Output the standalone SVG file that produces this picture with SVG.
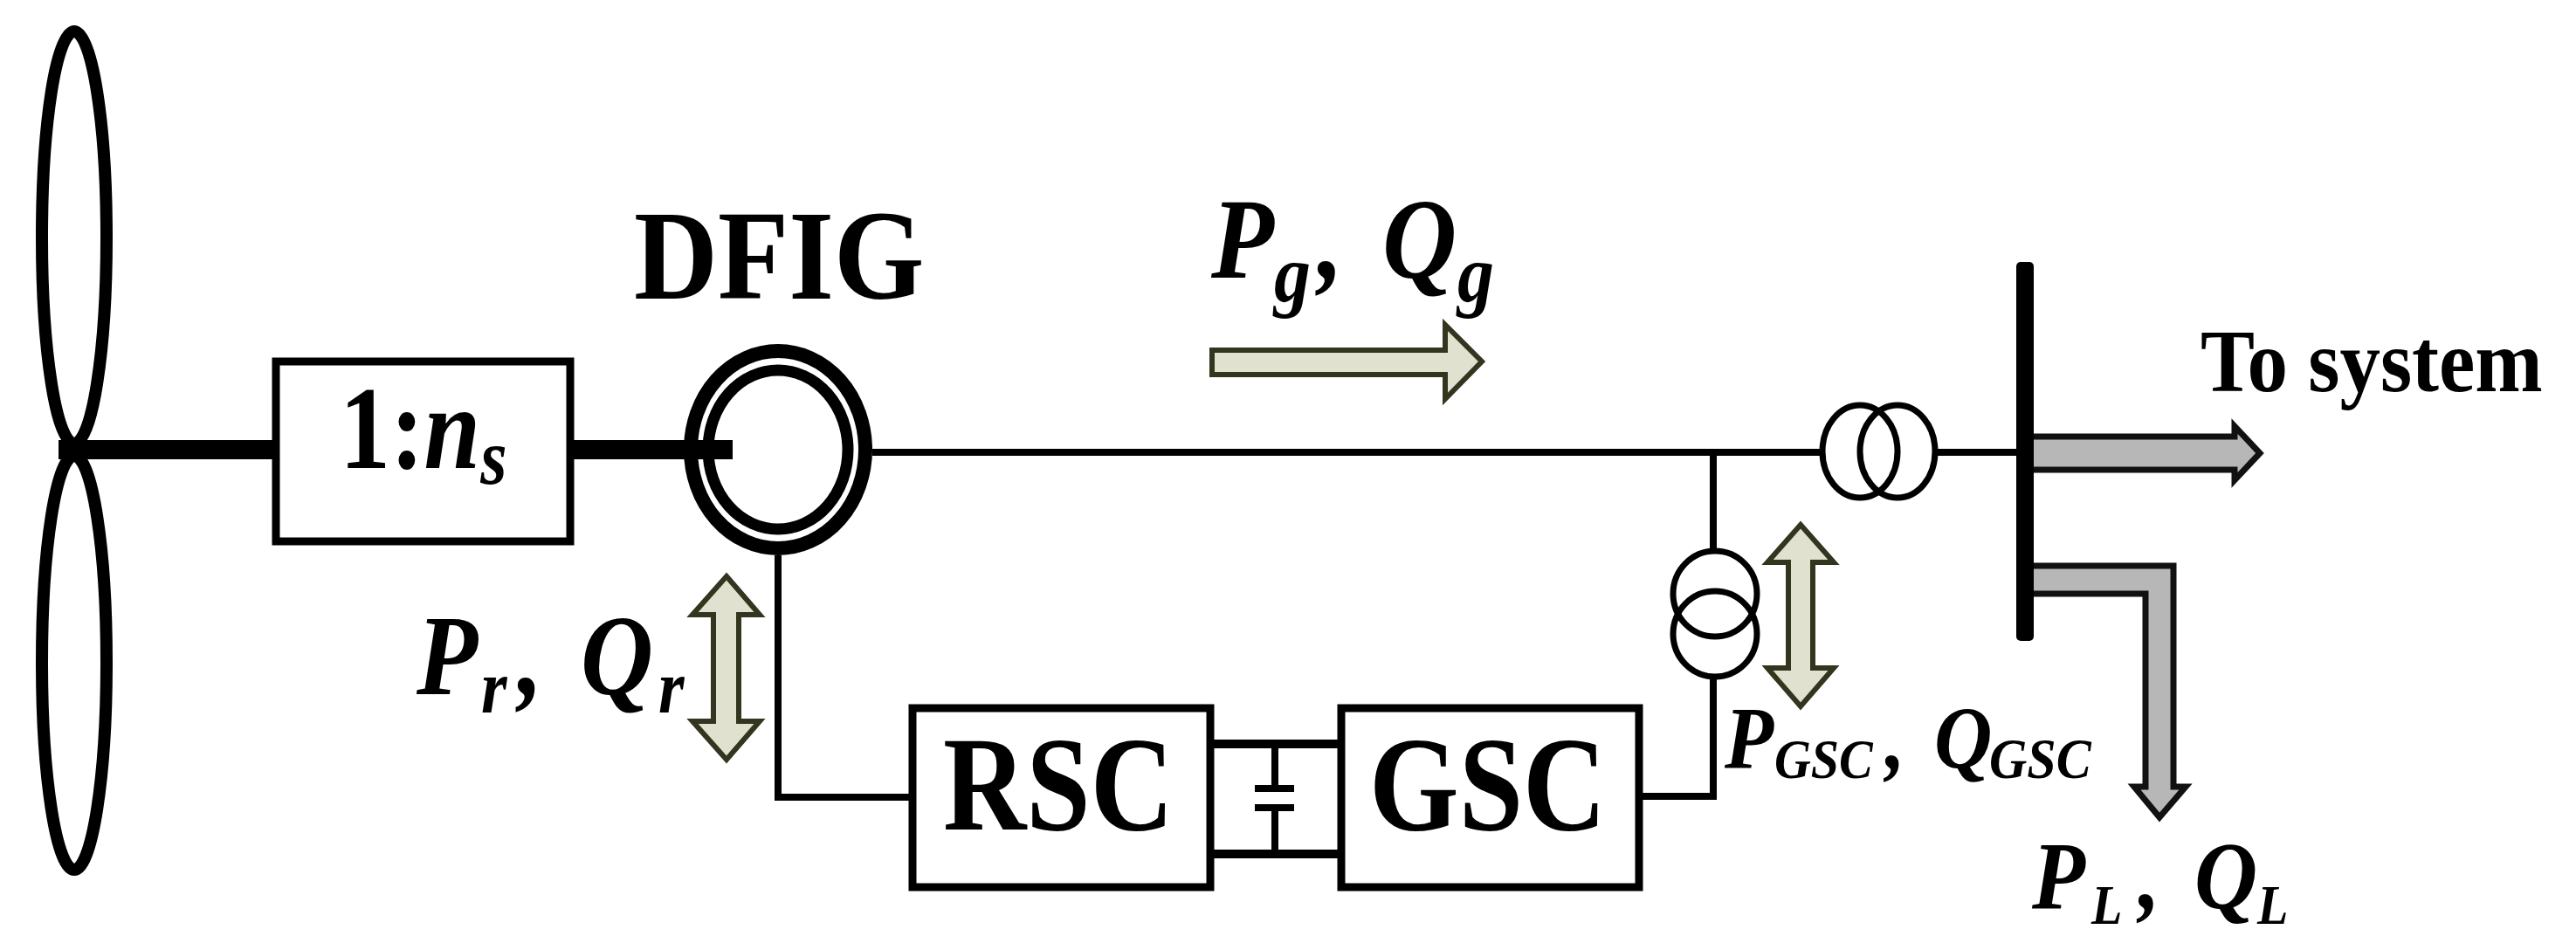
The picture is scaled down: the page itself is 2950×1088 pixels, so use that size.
<svg xmlns="http://www.w3.org/2000/svg" width="2950" height="1088" viewBox="0 0 2950 1088">
<style>
text{font-family:"Liberation Serif","Times New Roman",serif;font-weight:bold;fill:#000}
.i{font-style:italic}
.box{fill:#fff;stroke:#000;stroke-width:9}
.ring{fill:none;stroke:#000}
.w{fill:none;stroke:#000;stroke-width:8}
.t{fill:none;stroke:#000;stroke-width:7}
.fa{fill:#e0e1cf;stroke:#33351f;stroke-width:6;stroke-linejoin:miter}
.ga{fill:#b7b7b7;stroke:none}
.ge{fill:none;stroke:#111;stroke-width:7}
</style>
<rect width="2950" height="1088" fill="#fff"/>
<g id="turbine">
<ellipse class="ring" stroke-width="14" cx="85" cy="272" rx="37" ry="236"/>
<ellipse class="ring" stroke-width="14" cx="85" cy="759" rx="37" ry="237"/>
</g>
<g id="gearbox">
<rect class="box" x="316" y="414" width="337" height="206"/>
<text transform="translate(389,536) scale(1,1.17)" font-size="116">1:<tspan class="i">n</tspan><tspan class="i" font-size="78" dy="15">s</tspan></text>
</g>
<g id="dfig">
<ellipse class="ring" stroke-width="16" cx="891" cy="515" rx="100" ry="113"/>
<ellipse class="ring" stroke-width="13" cx="891" cy="515" rx="80" ry="91"/>
<text transform="translate(726,342) scale(1,1.1)" font-size="133">DFIG</text>
</g>
<g id="rsc">
<rect class="box" x="1045" y="811" width="341" height="205"/>
<text transform="translate(1080,950) scale(1,1.17)" font-size="132">RSC</text>
</g>
<g id="gsc">
<rect class="box" x="1536" y="811" width="341" height="205"/>
<text transform="translate(1568,950) scale(1,1.17)" font-size="132">GSC</text>
</g>
<g id="capacitor">
<path d="M1437 903H1482M1437 925H1482" fill="none" stroke="#000" stroke-width="8"/>
</g>
<g id="trafo-main">
<ellipse class="t" cx="2130" cy="517" rx="43" ry="53"/>
<ellipse class="t" cx="2173" cy="517" rx="43" ry="53"/>
</g>
<g id="trafo-gsc">
<ellipse class="t" cx="1964" cy="680" rx="48" ry="49"/>
<ellipse class="t" cx="1964" cy="726" rx="48" ry="49"/>
</g>
<g id="bus">
<rect x="2309" y="300" width="20" height="434" rx="5" fill="#000"/>
</g>
<g id="connectors">
<path d="M67 515H312M656 515H839" fill="none" stroke="#000" stroke-width="22"/>
<path class="w" d="M999 518H2087M2216 518H2309M1962 518V631M1962 775V912H1881M891 636V913H1041M1460 856V903M1460 925V975"/>
<path d="M1386 852H1532M1386 978H1532" fill="none" stroke="#000" stroke-width="10"/>
</g>
<g id="flows">
<path class="fa" d="M1388 401H1655V372L1697 414L1655 457V429H1388Z"/>
<path class="fa" d="M832 660L870 704H846V826H870L832 870L793 826H817V704H793Z"/>
<path class="fa" d="M2062 601L2100 644H2076V765H2100L2062 809L2024 765H2048V644H2024Z"/>
<path class="ga" d="M2329 500H2559V488L2588 519L2559 550V538H2329Z"/>
<path class="ge" d="M2329 500H2559V488L2588 519L2559 550V538H2329"/>
<path class="ga" d="M2329 648H2489V901H2503L2473 936L2444 901H2457V680H2329Z"/>
<path class="ge" d="M2329 648H2489V901H2503L2473 936L2444 901H2457V680H2329"/>
</g>
<g id="labels">
<text class="i" transform="translate(1387,318) scale(1,1.12)" font-size="118">P<tspan x="72" y="24" font-size="84">g</tspan><tspan x="122" y="0">,</tspan><tspan x="196" y="0">Q</tspan><tspan x="282" y="24" font-size="84">g</tspan></text>
<text class="i" transform="translate(477,795) scale(1,1.14)" font-size="115">P<tspan x="74" y="18" font-size="76">r</tspan><tspan x="116" y="0">,</tspan><tspan x="188" y="0">Q</tspan><tspan x="277" y="18" font-size="76">r</tspan></text>
<text transform="translate(2520,448) scale(1,1.1)" font-size="93">To system</text>
<text class="i" transform="translate(1975,880) scale(1,1.1)" font-size="92">P<tspan x="57" y="10" font-size="58">GSC</tspan><tspan x="184" y="0">,</tspan><tspan x="240" y="0">Q</tspan><tspan x="303" y="10" font-size="60">GSC</tspan></text>
<text class="i" transform="translate(2327,1040) scale(1,1.1)" font-size="100">P<tspan x="68" y="16" font-size="58">L</tspan><tspan x="122" y="0">,</tspan><tspan x="186" y="0">Q</tspan><tspan x="258" y="16" font-size="58">L</tspan></text>
</g>
</svg>
